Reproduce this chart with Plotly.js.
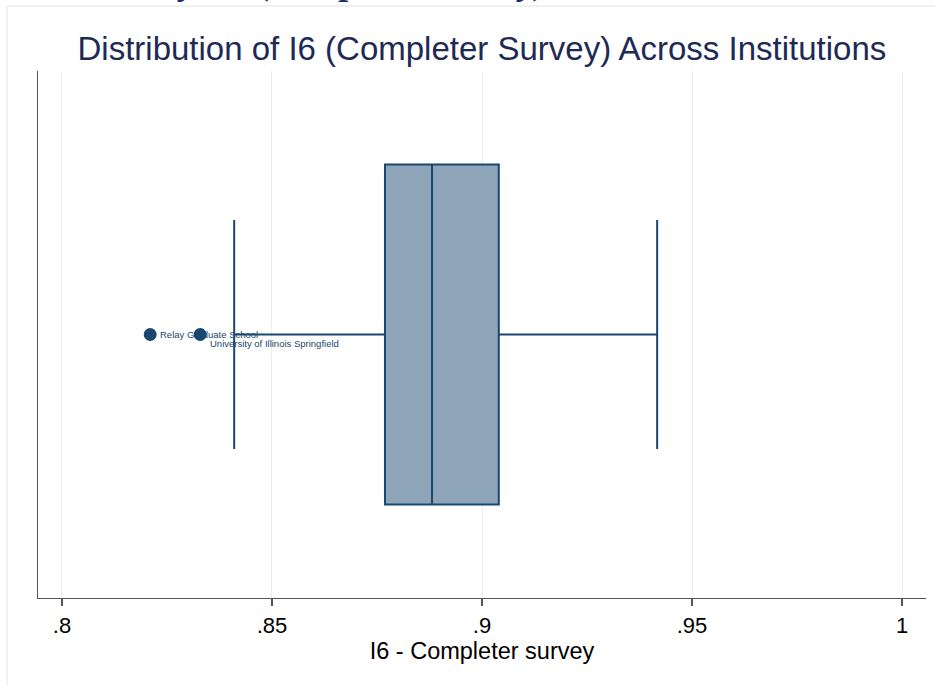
<!DOCTYPE html>
<html>
<head>
<meta charset="utf-8">
<script src="https://cdn.plot.ly/plotly-3.0.1.min.js"></script>
<style>html,body{margin:0;padding:0;background:#fff;}#chart{width:935px;height:685px;}</style>
</head>
<body>
<div id="chart"></div>
<script>
// Box statistics for I6 - Completer survey
const boxQ1 = [0.8769];
const boxMedian = [0.8881];
const boxQ3 = [0.9040];
const boxLowerFence = [0.8410];
const boxUpperFence = [0.9417];
// Outliers
const outlierValues = [0.8210, 0.8329];
const outlierNames = ["Relay Graduate School", "University of Illinois Springfield"];
// Axis ticks
const tickVals = [0.8, 0.85, 0.9, 0.95, 1];
const tickText = [".8", ".85", ".9", ".95", "1"];

const navy = "#1a476f";

const traces = [
  {
    type: "box",
    orientation: "h",
    y: [0],
    q1: boxQ1,
    median: boxMedian,
    q3: boxQ3,
    lowerfence: boxLowerFence,
    upperfence: boxUpperFence,
    boxpoints: false,
    width: 0.645,
    whiskerwidth: 0.673,
    fillcolor: "#8ea4b8",
    line: {color: navy, width: 2},
    hoverinfo: "skip",
    showlegend: false
  },
  {
    type: "scatter",
    mode: "markers",
    x: outlierValues,
    y: outlierValues.map(() => 0),
    marker: {size: 13, color: navy},
    hoverinfo: "skip",
    showlegend: false
  }
];

const labelShifts = [0, -9];
const annotations = outlierNames.map((n, i) => ({
  xref: "x", yref: "y", x: outlierValues[i], y: 0,
  text: n, showarrow: false, xanchor: "left", yanchor: "middle",
  xshift: 8, yshift: labelShifts[i],
  font: {family: "Liberation Sans, Arial, sans-serif", size: 9.5, color: navy}
}));

annotations.push({
  xref: "paper", yref: "paper", x: 0.015, y: (598 - 4) / 527,
  xanchor: "left", yanchor: "bottom", showarrow: false,
  text: "<b><i>Summary: I6 (Completer Survey)</i></b>",
  font: {family: "Liberation Serif, Times New Roman, serif", size: 36, color: "#1a2f6b"}
});

const layout = {
  width: 935, height: 685,
  margin: {l: 38, r: 9, t: 71, b: 87},
  paper_bgcolor: "#ffffff",
  plot_bgcolor: "#ffffff",
  title: {
    text: "Distribution of I6 (Completer Survey) Across Institutions",
    font: {family: "Liberation Sans, Arial, sans-serif", size: 33, color: "#1e2a55"},
    x: 0.5154, xanchor: "center", y: 1 - 48 / 685, yanchor: "middle"
  },
  xaxis: {
    range: [0.79429, 1.00571],
    tickvals: tickVals, ticktext: tickText,
    showgrid: true, gridcolor: "#e8eff1", gridwidth: 1,
    zeroline: false,
    showline: true, linecolor: "#555555", linewidth: 1.2,
    ticks: "outside", ticklen: 7, tickcolor: "#555555", tickwidth: 1.2,
    tickfont: {family: "Liberation Sans, Arial, sans-serif", size: 22, color: "#000000"},
    title: {text: "I6 - Completer survey", standoff: 4,
      font: {family: "Liberation Sans, Arial, sans-serif", size: 23.5, color: "#000000"}},
    fixedrange: true
  },
  yaxis: {
    range: [-0.5, 0.5],
    showticklabels: false, showgrid: false, zeroline: false,
    showline: true, linecolor: "#555555", linewidth: 1.2,
    ticks: "", fixedrange: true
  },
  shapes: [
    {type: "line", xref: "paper", yref: "paper", x0: -31/888, x1: 1.02, y0: (598-6)/527, y1: (598-6)/527,
     line: {color: "#eef2f3", width: 2}},
    {type: "line", xref: "paper", yref: "paper", x0: -31/888, x1: -31/888, y0: (598-6)/527, y1: -0.2,
     line: {color: "#eef2f3", width: 2}}
  ],
  annotations: annotations,
  showlegend: false
};

Plotly.newPlot("chart", traces, layout, {displayModeBar: false, staticPlot: true});
</script>
</body>
</html>
